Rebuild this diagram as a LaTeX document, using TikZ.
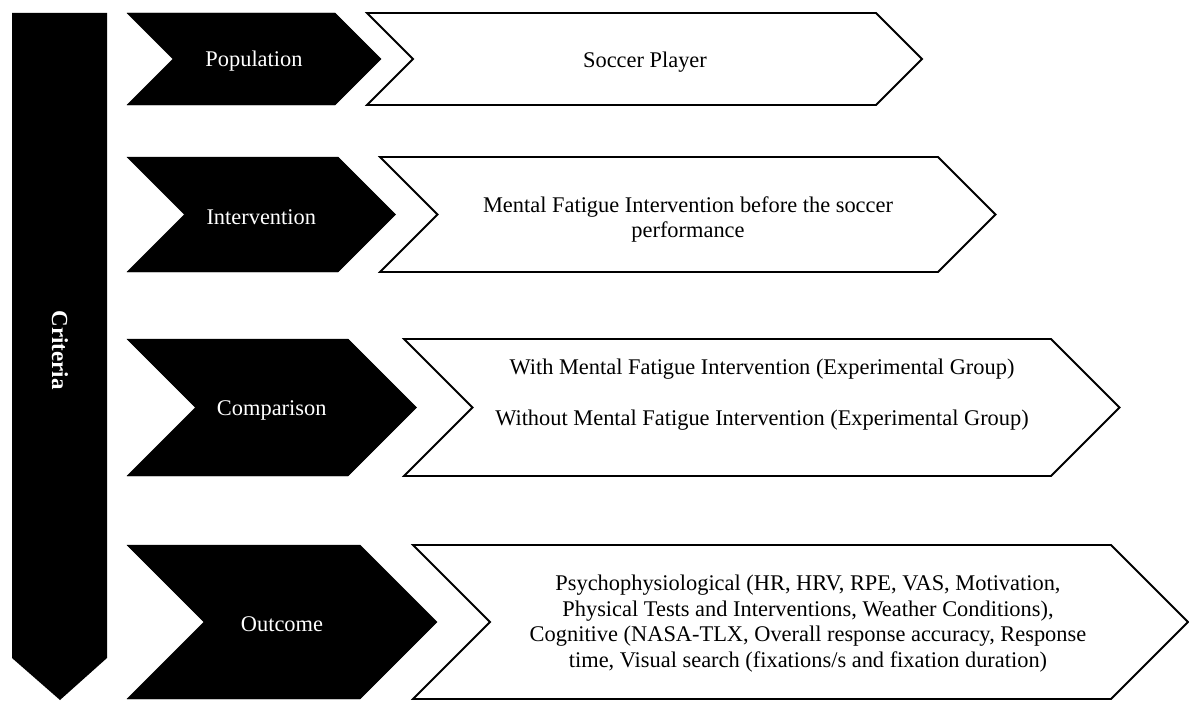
\documentclass[tikz,border=0pt]{standalone}
\usepackage{fontspec}
\setmainfont{Liberation Serif}
\usepackage{tikz}
\usetikzlibrary{positioning}
\tikzset{
  darkarrow/.style={fill=black, draw=black, line width=0.4pt},
  lightarrow/.style={fill=white, draw=black, line width=1.8pt},
  headtext/.style={text=white, font=\fontsize{22.4}{25.5}\selectfont},
  bodytext/.style={text=black, align=center, font=\fontsize{22.4}{25.5}\selectfont}
}

\begin{document}
\begin{tikzpicture}[x=1pt, y=-1pt]
    \useasboundingbox (0,0) rectangle (1189,701);
    \fill[black] (12,13) -- (107,13) -- (107,658) -- (60,700) -- (12,658) -- cycle;
    \node[headtext, font=\fontsize{23}{26}\selectfont\bfseries, rotate=-90] (crit) at (60,350) {Criteria};
    \foreach \n/\t/\b/\be/\wl/\we/\lbl in {pop/13/105/335/367/876/Population,
        int/157/272/338/380/938/Intervention,
        comp/339/476/348/404/1051/Comparison,
        out/545/699/360/413/1111/Outcome} {
      \pgfmathsetmacro\h{(\b-\t)/2}
      \pgfmathsetmacro\m{(\b+\t)/2}
      \draw[darkarrow] (127,\t) -- (\be,\t) -- (\be+\h,\m) -- (\be,\b) -- (127,\b) -- (127+\h,\m) -- cycle;
      \draw[lightarrow] (\wl,\t) -- (\we,\t) -- (\we+\h,\m) -- (\we,\b) -- (\wl,\b) -- (\wl+\h,\m) -- cycle;
      \node[headtext] (\n) at ({(127+\be+\h)/2},\m+2.5) {\lbl};
    }
    \node[bodytext] (popbody) at (645,62.5) {Soccer Player};
    \node[bodytext] (intbody) at (688,219.5) {Mental Fatigue Intervention before the soccer\\performance};
    \node[bodytext] (compbody) at (762,394.5) {With Mental Fatigue Intervention (Experimental Group)\\[25.5pt]
      Without Mental Fatigue Intervention (Experimental Group)};
    \node[bodytext] (outbody) at (808,623.5) {Psychophysiological (HR, HRV, RPE, VAS, Motivation,\\
      Physical Tests and Interventions, Weather Conditions),\\
      Cognitive (NASA-TLX, Overall response accuracy, Response\\
      time, Visual search (fixations/s and fixation duration)};
  \end{tikzpicture}
\end{document}
